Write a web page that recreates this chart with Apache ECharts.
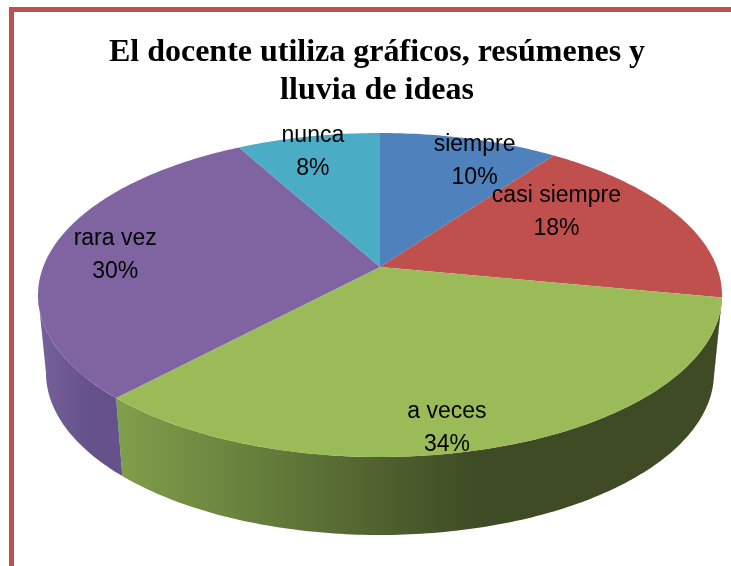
<!DOCTYPE html>
<html>
<head>
<meta charset="utf-8">
<script src="https://cdn.jsdelivr.net/npm/echarts@6/dist/echarts.min.js"></script>
<style>
  html, body {
    margin: 0;
    padding: 0;
    background: #fff;
  }
  #container {
    width: 731px;
    height: 566px;
  }
</style>
</head>
<body>
<div id="container"></div>
<script type="text/javascript">
// data (percent of answers)
var categories = ['siempre', 'casi siempre', 'a veces', 'rara vez', 'nunca'];
var values = [10, 18, 34, 30, 8];

// geometry of the tilted 3d disc, px
var CX = 380, CY = 295, RX = 342, RY = 162;
var BOT_CY = 373, BOT_RX = 334, BOT_RY = 162;
var TILT = 0.173;   // apex sits a bit behind the ellipse centre (perspective)

var topColors = ['#4f81bd', '#c0504d', '#9bbb59', '#8064a2', '#4bacc6'];
var sideColors = [
  ['#3e6696', '#3e6696'],
  ['#8c3836', '#7a2f2d'],
  ['#809f4b', '#3e4b24'],
  ['#76619a', '#66528a'],
  ['#3b8ba0', '#3b8ba0']
];
// small shifts so labels sit where the original put them
var labelNudge = [[21, 0], [-62, -11], [-29, 23], [-2, 4], [-8, -7]];

var total = values.reduce(function (a, b) { return a + b; }, 0);
var startAngle = [];
var acc = 0;
values.forEach(function (v) {
  startAngle.push(acc / total * 360);
  acc += v;
});
function endAngle(i) {
  return startAngle[i] + values[i] / total * 360;
}

// circle (angle clockwise from 12 o'clock, radius 0..1) -> unit ellipse
function project(deg, r) {
  var t = deg * Math.PI / 180;
  var u = r * Math.sin(t), v = -r * Math.cos(t);
  var d = 1 - TILT * v;
  return [u * Math.sqrt(1 - TILT * TILT) / d, (v - TILT) / d];
}
function toPx(p) {
  return [CX + p[0] * RX, CY + p[1] * RY];
}
function rimParam(deg) {
  if (deg >= 360) return 360;
  var p = project(deg, 1);
  var a = Math.atan2(p[0], -p[1]) * 180 / Math.PI;
  return a < 0 ? a + 360 : a;
}

function renderSide(params, api) {
  var i = params.dataIndex;
  var a = Math.max(rimParam(startAngle[i]), 90);
  var b = Math.min(rimParam(endAngle(i)), 270);
  if (a >= b) return null;
  var top = [], bot = [];
  for (var f = a; ; f += 1) {
    if (f > b) f = b;
    var r = f * Math.PI / 180;
    top.push([CX + RX * Math.sin(r), CY - RY * Math.cos(r)]);
    bot.unshift([CX + BOT_RX * Math.sin(r), BOT_CY - BOT_RY * Math.cos(r)]);
    if (f === b) break;
  }
  return {
    type: 'polygon',
    shape: { points: top.concat(bot) },
    style: {
      fill: new echarts.graphic.LinearGradient(0, 0, 1, 0, [
        { offset: 0, color: sideColors[i][0] },
        { offset: 0.6, color: sideColors[i][1] },
        { offset: 1, color: sideColors[i][1] }
      ])
    }
  };
}

function renderTop(params, api) {
  var i = params.dataIndex;
  var s = startAngle[i], e = endAngle(i);
  var pts = [toPx(project(0, 0))];
  for (var t = s; ; t += 1) {
    if (t > e) t = e;
    pts.push(toPx(project(t, 1)));
    if (t === e) break;
  }
  return {
    type: 'polygon',
    shape: { points: pts },
    style: { fill: topColors[i] }
  };
}

function renderLabel(params, api) {
  var i = params.dataIndex;
  var mid = (startAngle[i] + endAngle(i)) / 2;
  var p = toPx(project(mid, 0.8));
  return {
    type: 'text',
    x: p[0] + labelNudge[i][0],
    y: p[1] + labelNudge[i][1],
    style: {
      text: categories[i] + '\n' + Math.round(values[i] / total * 100) + '%',
      fill: '#000',
      fontSize: 23,
      fontFamily: '"Liberation Sans", Arial, sans-serif',
      lineHeight: 33,
      align: 'center',
      verticalAlign: 'middle'
    }
  };
}

var dom = document.getElementById('container');
var myChart = echarts.init(dom);
var option = {
  animation: false,
  backgroundColor: '#fff',
  title: {
    text: 'El docente utiliza gráficos, resúmenes y\nlluvia de ideas',
    left: 372,
    top: 29,
    textAlign: 'center',
    textStyle: {
      fontFamily: '"Liberation Serif", "Times New Roman", serif',
      fontWeight: 'bold',
      fontSize: 32,
      lineHeight: 38,
      color: '#000'
    }
  },
  graphic: [{
    type: 'rect',
    shape: { x: 11.5, y: 9.5, width: 900, height: 800 },
    style: { fill: 'none', stroke: '#c0504d', lineWidth: 5 },
    z: 10
  }],
  series: [
    { type: 'custom', coordinateSystem: 'none', z: 1, renderItem: renderSide, data: values },
    { type: 'custom', coordinateSystem: 'none', z: 2, renderItem: renderTop, data: values },
    { type: 'custom', coordinateSystem: 'none', z: 3, renderItem: renderLabel, data: values }
  ]
};
myChart.setOption(option, true);
</script>
</body>
</html>
